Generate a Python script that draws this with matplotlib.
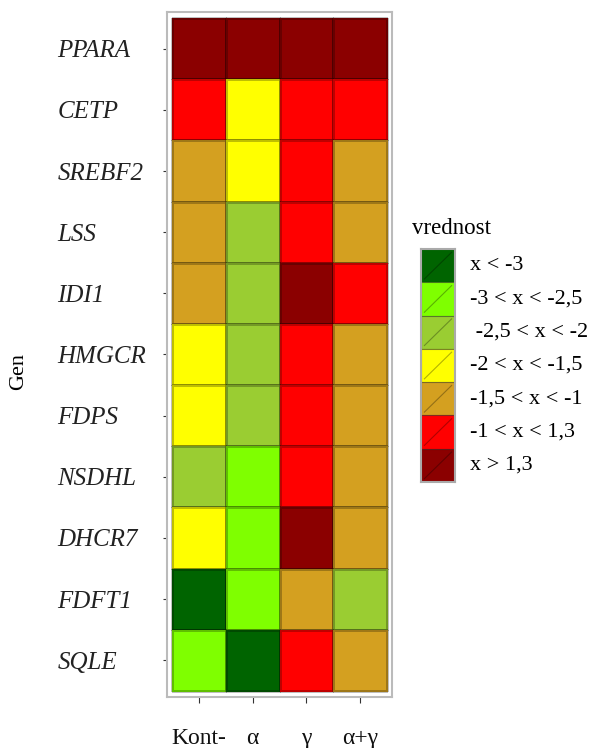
import numpy as np
import matplotlib
matplotlib.use("Agg")
import matplotlib.pyplot as plt
from matplotlib.colors import ListedColormap
from matplotlib.patches import Rectangle

# data
genes = ["PPARA", "CETP", "SREBF2", "LSS", "IDI1", "HMGCR", "FDPS",
         "NSDHL", "DHCR7", "FDFT1", "SQLE"]
groups = ["Kont-", "α", "γ", "α+γ"]
# class index 0..6 (see legend_labels)
kont = [6, 5, 4, 4, 4, 3, 3, 2, 3, 0, 1]
alfa = [6, 3, 3, 2, 2, 2, 2, 1, 1, 1, 0]
gama = [6, 5, 5, 5, 6, 5, 5, 5, 6, 4, 5]
alfa_gama = [6, 5, 4, 4, 5, 4, 4, 4, 4, 2, 4]

legend_labels = ["x < -3", "-3 < x < -2,5", " -2,5 < x < -2", "-2 < x < -1,5",
                 "-1,5 < x < -1", "-1 < x < 1,3", "x > 1,3"]
colors = ["#006400", "#7FFF00", "#9ACD32", "#FFFF00", "#D4A020", "#FF0000", "#8B0000"]

W, H = 603, 748
fig = plt.figure(figsize=(W / 100, H / 100), dpi=100)
serif = ["Liberation Serif", "DejaVu Serif"]

ax = fig.add_axes([167 / W, (H - 697) / H, (392 - 167) / W, (697 - 12) / H])
grid = np.array([kont, alfa, gama, alfa_gama]).T
cmap = ListedColormap(colors)
ax.pcolormesh(np.arange(5) + 0.5, np.arange(12) + 0.5, grid, cmap=cmap, vmin=-0.5, vmax=6.5,
              edgecolors=(0, 0, 0, 0.25), linewidth=0.8)
ax.set_xlim(0.5 - 0.09, 4.5 + 0.09)
ax.set_ylim(11.5 + 0.1, 0.5 - 0.1)

ax.set_xticks(range(1, 5))
ax.set_xticklabels(groups, family=serif, fontsize=17)
ax.set_yticks(range(1, 12))
ax.set_yticklabels(genes, family=serif, fontsize=18, style="italic", ha="left")
ax.tick_params(axis="y", pad=76, length=3, color="#333333", labelcolor="#222222")
ax.tick_params(axis="x", pad=18, length=4, color="#333333", labelcolor="#111111")
for s in ax.spines.values():
    s.set_color("#BBBBBB")
    s.set_linewidth(1.5)

fig.text(19 / W, 1 - 371 / H, "Gen", rotation=90, family=serif, fontsize=16,
         ha="center", va="center")

# legend
fig.text(412 / W, 1 - 229 / H, "vrednost", family=serif, fontsize=16.5,
         ha="left", va="center")
lax = fig.add_axes([421 / W, (H - 482) / H, 34 / W, 233 / H])
n = len(colors)
for i, c in enumerate(colors):
    lax.add_patch(Rectangle((0, i), 1, 1, facecolor=c, edgecolor=(0, 0, 0, 0.35), linewidth=0.8))
    lax.plot([0.1, 0.9], [i + 0.9, i + 0.1], color=(0, 0, 0, 0.3), linewidth=0.8)
    lax.text(1.45, i + 0.5, legend_labels[i], family=serif, fontsize=16,
             ha="left", va="center")
lax.set_xlim(0, 1)
lax.set_ylim(n, 0)
lax.set_xticks([])
lax.set_yticks([])
for s in lax.spines.values():
    s.set_color("#AAAAAA")
    s.set_linewidth(1.5)

fig.savefig("out.png", dpi=100)
